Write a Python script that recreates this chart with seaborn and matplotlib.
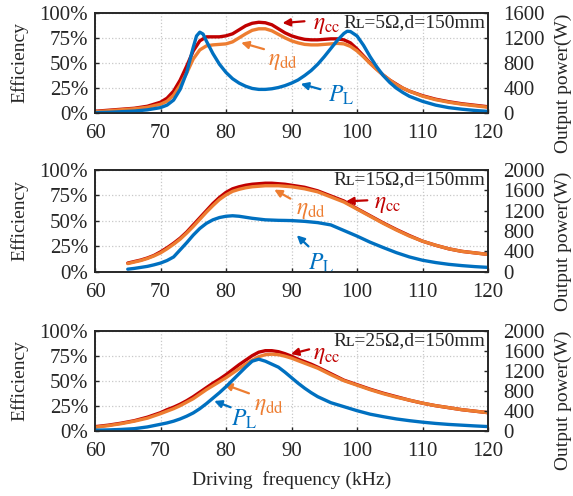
import numpy as np
import pandas as pd
import matplotlib
matplotlib.use("Agg")
import matplotlib.pyplot as plt
from matplotlib.ticker import PercentFormatter
import seaborn as sns

# ---- panel a: RL = 5 ohm ----
freq_a = [60, 62, 64, 66, 68, 70, 71, 72, 73, 74, 75, 76, 77, 78, 79, 80, 81, 82, 83, 84,
          85, 86, 87, 88, 89, 90, 91, 92, 93, 94, 95, 96, 97, 98, 99, 100, 101, 102, 103,
          104, 105, 106, 107, 108, 110, 112, 114, 116, 118, 120]
eta_cc_a = [2, 3, 4, 5, 7, 11, 15, 22, 33, 47, 62, 72, 76, 76, 76, 77, 79, 83, 87, 89.5,
            90.5, 90, 88, 84, 80, 77, 75, 73.5, 73, 73, 73.5, 74, 74, 73, 70, 64, 57, 50, 44,
            38, 33, 29, 25, 22, 17.5, 14, 11.5, 9.5, 8, 6.5]
eta_dd_a = [1.5, 2.5, 3.5, 4.5, 6, 9, 12, 18, 28, 40, 54, 63, 67, 68, 68.5, 69, 71, 75, 79, 82.5,
            84, 84, 82, 78.5, 75, 72, 70, 68.5, 68, 68, 68.5, 69, 69.5, 69, 66.5, 62, 56, 49.5, 43.5,
            38, 33, 28.5, 25, 22, 17, 13.5, 11, 9, 7.5, 6]
freq_pl_a = [60, 62, 64, 66, 68, 70, 71, 72, 73, 74, 75, 75.5, 76, 76.5, 77, 78, 79, 80, 81, 82,
             83, 84, 85, 86, 87, 88, 89, 90, 91, 92, 93, 94, 95, 96, 97, 98, 98.5, 99, 100, 101,
             102, 103, 104, 105, 106, 107, 108, 110, 112, 114, 116, 118, 120]
p_l_a = [10, 15, 25, 35, 55, 90, 130, 210, 380, 650, 1050, 1230, 1290, 1260, 1150, 950, 780, 650,
         550, 480, 430, 395, 380, 380, 390, 410, 440, 480, 530, 600, 680, 780, 900, 1030, 1160,
         1270, 1305, 1300, 1230, 1080, 900, 740, 600, 490, 400, 330, 270, 190, 130, 90, 65, 45, 30]

# ---- panel b: RL = 15 ohm ----
freq_b = [65, 66, 67, 68, 69, 70, 71, 72, 73, 74, 75, 76, 77, 78, 79, 80, 81, 82, 83, 84, 85,
          86, 87, 88, 89, 90, 92, 94, 96, 98, 100, 102, 104, 106, 108, 110, 112, 114, 116, 118, 120]
eta_cc_b = [8.5, 10, 11.5, 13.5, 16, 19.5, 23.5, 28, 33, 39, 46, 53, 60, 67, 73, 78, 81.5, 83.5,
            85, 86, 86.5, 87, 87, 86.5, 86, 85, 83, 79.5, 74.5, 69.5, 62, 55, 48, 41.5, 35.5, 30,
            26, 22.5, 20, 18.5, 17]
eta_dd_b = [8, 9.5, 11, 13, 15.5, 18.5, 22.5, 27, 32, 38, 44.5, 51.5, 58.5, 65, 71, 75.5, 79, 81,
            82.5, 83.5, 84, 84.5, 84.5, 84.5, 84, 83.5, 81.5, 78.5, 73.5, 68.5, 61.5, 54.5, 47.5,
            41, 35, 30, 26, 22.5, 20, 18.5, 17]
p_l_b = [50, 65, 85, 105, 135, 170, 220, 290, 430, 570, 720, 850, 950, 1020, 1065, 1090, 1100,
         1090, 1070, 1050, 1035, 1020, 1015, 1010, 1008, 1005, 990, 965, 920, 810, 700, 580, 475,
         375, 290, 225, 180, 145, 120, 100, 85]

# ---- panel c: RL = 25 ohm ----
freq_c = [60, 62, 64, 66, 68, 70, 71, 72, 73, 74, 75, 76, 77, 78, 79, 80, 81, 82, 83, 84, 85, 86,
          87, 88, 89, 90, 91, 92, 93, 94, 96, 98, 100, 102, 104, 106, 108, 110, 112, 114, 116,
          118, 120]
eta_cc_c = [4, 5.5, 7.5, 10, 13.5, 18, 21, 23.5, 26.5, 30, 34, 38.5, 43, 47.5, 51.5, 56, 61, 66,
            70.5, 75, 78.5, 80, 80, 79, 77, 74.5, 71.5, 69, 66.5, 63.5, 57, 50.5, 46, 41.5, 37.5,
            34, 30.5, 27.5, 25, 23, 21, 19.5, 18]
eta_dd_c = [3.5, 5, 7, 9.5, 12.5, 17, 19.5, 22, 25, 28.5, 32, 36.5, 41, 45, 49, 53, 57.5, 62,
            66.5, 70.5, 74, 76, 76.5, 76, 74.5, 72.5, 70, 67.5, 65, 62.5, 56, 50, 45.5, 41, 37,
            33.5, 30.5, 27.5, 25, 23, 21, 19.5, 18]
p_l_c = [10, 15, 25, 40, 75, 128, 155, 190, 235, 290, 355, 440, 540, 650, 760, 880, 1010, 1140,
         1270, 1390, 1430, 1390, 1330, 1270, 1170, 1060, 950, 850, 760, 680, 560, 480, 400, 330,
         280, 235, 200, 170, 145, 125, 110, 95, 82]

x_ticks = [60, 70, 80, 90, 100, 110, 120]
eff_ticks = [0, 25, 50, 75, 100]
conditions = ["R\u029f=5\u03a9,d=150mm", "R\u029f=15\u03a9,d=150mm", "R\u029f=25\u03a9,d=150mm"]

RED = "#c00000"
ORANGE = "#ed7d31"
BLUE = "#0070c0"

sns.set_style("ticks")
plt.rcParams["font.family"] = ["Liberation Serif", "DejaVu Serif"]
plt.rcParams["mathtext.fontset"] = "stix"

fig = plt.figure(figsize=(5.73, 4.96), dpi=100)
left, width = 0.1658, 0.6859
boxes = [(0.7716, 0.2028), (0.4522, 0.2051), (0.1317, 0.2016)]

panels = [
    (freq_a, eta_cc_a, eta_dd_a, freq_pl_a, p_l_a, 1600),
    (freq_b, eta_cc_b, eta_dd_b, freq_b, p_l_b, 2000),
    (freq_c, eta_cc_c, eta_dd_c, freq_c, p_l_c, 2000),
]

# annotation layout per panel: (text xy, arrow tail, arrow head)
notes = [
    {"cc": ((95.3, 87), (92.4, 91.7), (88.2, 89.5)),
     "dd": ((88.7, 51), (86.2, 63), (81.9, 71)),
     "pl": ((97.5, 18), (94.8, 23.2), (91.0, 30))},
    {"cc": ((104.6, 66), (102.0, 70.3), (97.9, 69)),
     "dd": ((93.0, 60), (90.2, 70.5), (87.0, 82)),
     "pl": ((94.5, 8), (92.9, 23), (90.5, 37.7))},
    {"cc": ((95.3, 75), (93.1, 82), (89.5, 76)),
     "dd": ((86.6, 24), (83.9, 36.4), (79.3, 47.4)),
     "pl": ((82.7, 11), (81.1, 22.4), (77.8, 30.7))},
]
labels = {"cc": (r"$\eta_{\mathrm{cc}}$", RED),
          "dd": (r"$\eta_{\mathrm{dd}}$", ORANGE),
          "pl": (r"$P_{\mathrm{L}}$", BLUE)}

for i, (box, data) in enumerate(zip(boxes, panels)):
    f, cc, dd, fp, pl, pmax = data
    ax = fig.add_axes([left, box[0], width, box[1]])
    sns.lineplot(x=f, y=cc, ax=ax, color=RED, lw=2.4)
    sns.lineplot(x=f, y=dd, ax=ax, color=ORANGE, lw=2.4)
    ax.set_xlim(60, 120)
    ax.set_ylim(0, 100)
    ax.set_xticks(x_ticks)
    ax.set_yticks(eff_ticks)
    ax.yaxis.set_major_formatter(PercentFormatter(100, decimals=0))
    ax.grid(True, linestyle=":", color="#c8c8c8", lw=0.9)
    ax.tick_params(direction="in", length=3, labelsize=15, width=1)
    ax.tick_params(axis="x", pad=8)
    ax.tick_params(axis="y", pad=5)
    ax.set_ylabel("Efficiency", fontsize=14)
    ax.yaxis.set_label_coords(-0.17, 0.5)
    for s in ax.spines.values():
        s.set_linewidth(1.2)

    ax2 = ax.twinx()
    sns.lineplot(x=fp, y=pl, ax=ax2, color=BLUE, lw=2.4)
    ax2.set_ylim(0, pmax)
    ax2.set_yticks(list(range(0, pmax + 1, 400)))
    ax2.tick_params(direction="in", length=3, labelsize=15, pad=11, width=1)
    ax2.set_ylabel("Output power(W)", fontsize=14)
    ax2.yaxis.set_label_coords(1.17, 0.3)
    for s in ax2.spines.values():
        s.set_linewidth(1.2)

    for key, (txt_xy, tail, head) in notes[i].items():
        label, col = labels[key]
        ax.annotate("", xy=head, xytext=tail,
                    arrowprops=dict(arrowstyle="-|>", color=col, lw=1.6, mutation_scale=11))
        ax.text(txt_xy[0], txt_xy[1], label, color=col, fontsize=17,
                ha="center", va="center")

    ax.text(119.6, 99, conditions[i], fontsize=14, ha="right", va="top")

    if i < 2:
        ax.set_xlabel("")
    else:
        ax.set_xlabel("Driving  frequency (kHz)", fontsize=14)
        ax.xaxis.set_label_coords(0.5, -0.40)

fig.savefig("out.png", dpi=100)
